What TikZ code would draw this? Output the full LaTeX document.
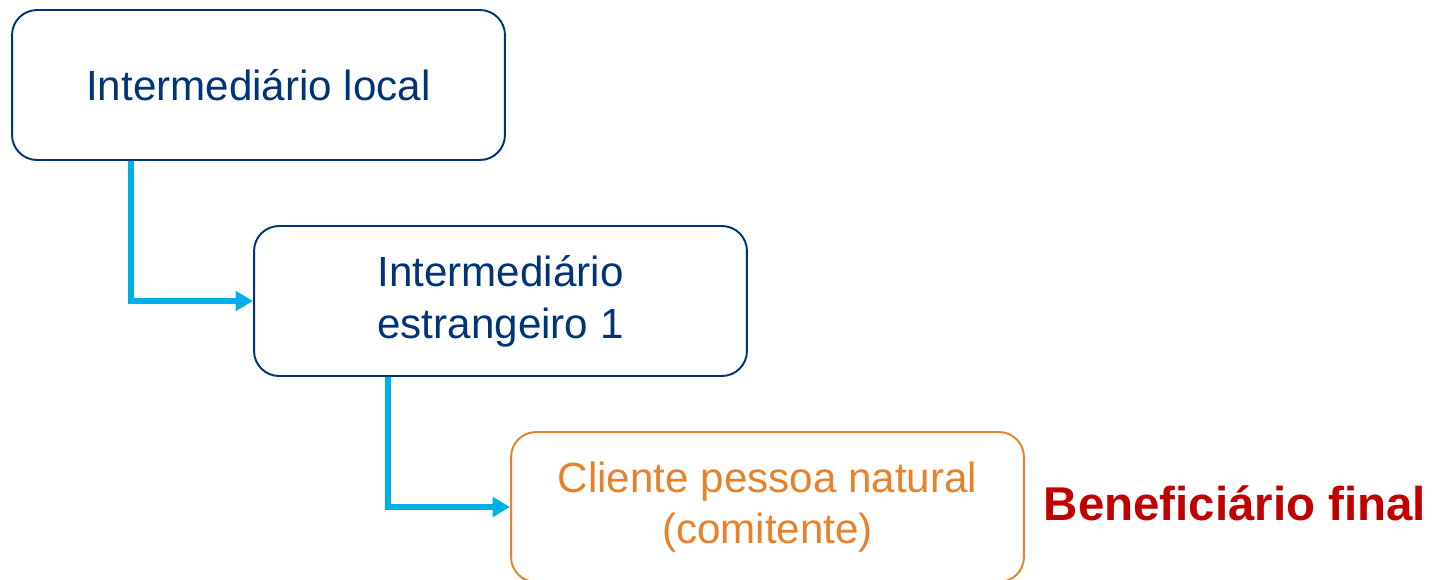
\documentclass[tikz,border=0pt]{standalone}
\usepackage{fontspec}
\setmainfont{Liberation Sans}
\usetikzlibrary{arrows.meta}
\definecolor{navy}{RGB}{0,51,120}
\definecolor{skyline}{RGB}{0,176,230}
\definecolor{orangeline}{RGB}{230,130,42}
\definecolor{darkred}{RGB}{192,0,0}
\begin{document}
\begin{tikzpicture}[
    x			= 0.02cm,
    y			= -0.02cm,
    box/.style		= {draw=navy, line width=1.1pt, rounded corners=0.5cm, align=center,
                           minimum width=9.86cm, minimum height=3cm, text=navy,
                           font=\fontsize{24}{29.5}\selectfont},
    conn/.style		= {skyline, line width=3pt, -{Triangle[length=10pt,width=11pt]}},
  ]
\useasboundingbox (0,0) rectangle (1433,579);
% boxes
\node[box] (local) at (258.5,85) {Intermediário local};
\node[box] (estr) at (500.5,301) {Intermediário\\estrangeiro 1};
\node[box, draw=orangeline, text=orangeline, minimum width=10.26cm] (cli) at (767.5,507) {Cliente pessoa natural\\(comitente)};
% links
\draw[conn] ([xshift=2.4cm]local.south west) |- (estr.west);
\draw[conn] ([xshift=2.7cm]estr.south west) |- (cli.west);
% label
\node[darkred, font=\fontsize{27}{32}\selectfont\bfseries] (benef) at (1235,503) {Beneficiário final};
%
\end{tikzpicture}
\end{document}
